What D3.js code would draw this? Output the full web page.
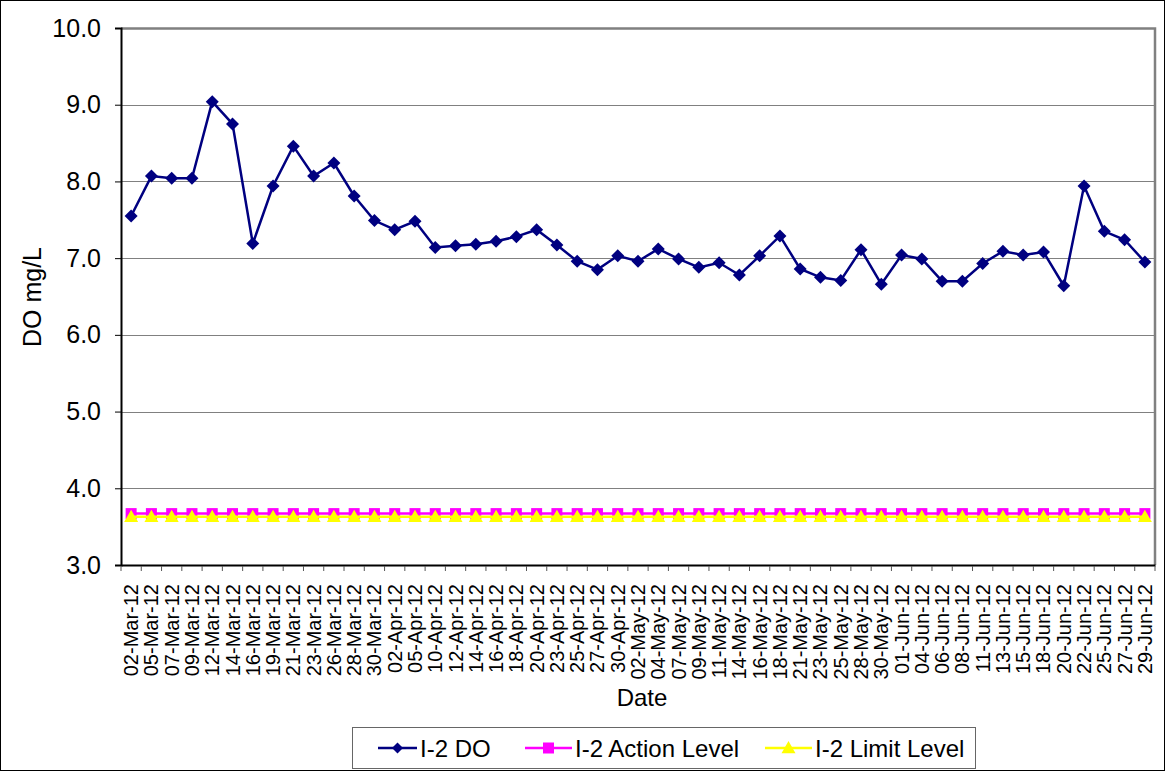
<!DOCTYPE html>
<html>
<head>
<meta charset="utf-8">
<script src="https://cdn.jsdelivr.net/npm/d3@7"></script>
<style>
  html, body { margin: 0; padding: 0; background: #fff; }
  svg { display: block; font-family: "Liberation Sans", Arial, sans-serif; }
</style>
</head>
<body>
<svg id="chart" width="1165" height="771"></svg>
<script>
const dates = ["02-Mar-12","05-Mar-12","07-Mar-12","09-Mar-12","12-Mar-12","14-Mar-12","16-Mar-12","19-Mar-12","21-Mar-12","23-Mar-12","26-Mar-12","28-Mar-12","30-Mar-12",
  "02-Apr-12","05-Apr-12","10-Apr-12","12-Apr-12","14-Apr-12","16-Apr-12","18-Apr-12","20-Apr-12","23-Apr-12","25-Apr-12","27-Apr-12","30-Apr-12",
  "02-May-12","04-May-12","07-May-12","09-May-12","11-May-12","14-May-12","16-May-12","18-May-12","21-May-12","23-May-12","25-May-12","28-May-12","30-May-12",
  "01-Jun-12","04-Jun-12","06-Jun-12","08-Jun-12","11-Jun-12","13-Jun-12","15-Jun-12","18-Jun-12","20-Jun-12","22-Jun-12","25-Jun-12","27-Jun-12","29-Jun-12"];
const doValues = [7.55,8.07,8.04,8.04,9.04,8.75,7.19,7.94,8.46,8.07,8.24,7.81,7.49,
  7.37,7.48,7.14,7.16,7.18,7.22,7.28,7.37,7.17,6.96,6.85,7.03,
  6.96,7.12,6.99,6.88,6.94,6.78,7.03,7.29,6.86,6.75,6.71,7.11,6.66,
  7.04,6.99,6.70,6.70,6.93,7.09,7.04,7.08,6.64,7.94,7.35,7.24,6.95];
const actionLevel = dates.map(() => 3.67);
const limitLevel = dates.map(() => 3.63);
const yTicks = [3,4,5,6,7,8,9,10];
const seriesNames = ["I-2 DO","I-2 Action Level","I-2 Limit Level"];

const svg = d3.select("#chart");
const W = 1165, H = 771;
const m = {left: 121, right: 1155, top: 28, bottom: 565};
const FONT = "Liberation Sans, Arial, sans-serif";

// outer border
svg.append("rect").attr("x",0.5).attr("y",0.5).attr("width",W-1).attr("height",H-1)
  .attr("fill","#fff").attr("stroke","#000").attr("stroke-width",1);

const x = d3.scaleBand().domain(dates).range([m.left, m.right]).paddingInner(0).paddingOuter(0);
const y = d3.scaleLinear().domain([3,10]).range([m.bottom, m.top]);
const cx = d => x(d) + x.bandwidth()/2;

// gridlines
svg.append("g").selectAll("line").data(yTicks.filter(t => t>3 && t<10)).join("line")
  .attr("x1", m.left).attr("x2", m.right)
  .attr("y1", d => Math.round(y(d))+0.5).attr("y2", d => Math.round(y(d))+0.5)
  .attr("stroke","#808080").attr("stroke-width",1);
// plot border top/right
svg.append("path")
  .attr("d", `M${m.left},${y(10)+0.5}H${m.right}V${m.bottom}`)
  .attr("fill","none").attr("stroke","#808080").attr("stroke-width",2.5);

// y axis
const yAxis = d3.axisLeft(y).tickValues(yTicks).tickFormat(d3.format(".1f")).tickSize(6).tickPadding(14);
const gy = svg.append("g").attr("transform",`translate(${m.left},0)`).call(yAxis);
gy.select(".domain").attr("stroke","#000").attr("stroke-width",2);
gy.selectAll(".tick line").attr("stroke","#000");
gy.selectAll(".tick text").attr("font-size",25).attr("fill","#000").attr("font-family",FONT);

// x axis
const xAxis = d3.axisBottom(x).tickSize(0).tickPadding(0);
const gx = svg.append("g").attr("transform",`translate(0,${m.bottom})`).call(xAxis);
gx.select(".domain").attr("stroke","#000").attr("stroke-width",2);
gx.selectAll(".tick text")
  .attr("font-size",20).attr("fill","#000").attr("font-family",FONT)
  .attr("text-anchor","end").attr("dy","0.35em")
  .attr("transform","translate(0,19) rotate(-90)");
// band-boundary ticks
const bounds = dates.map(d => x(d)).concat([m.right]);
gx.append("g").selectAll("line").data(bounds).join("line")
  .attr("x1", d => d).attr("x2", d => d).attr("y1", 1).attr("y2", 6)
  .attr("stroke","#555").attr("stroke-width",1);

// axis titles
svg.append("text").attr("x", 642).attr("y", 706).attr("text-anchor","middle")
  .attr("font-size",24).text("Date");
svg.append("text").attr("transform","translate(41,297) rotate(-90)").attr("text-anchor","middle")
  .attr("font-size",25).text("DO mg/L");

const line = d3.line().x((d,i) => cx(dates[i])).y(d => y(d));

// DO series
svg.append("path").datum(doValues).attr("d", line)
  .attr("fill","none").attr("stroke","#000080").attr("stroke-width",2.5);
const diamond = s => `M0,${-s}L${s},0L0,${s}L${-s},0Z`;
svg.append("g").selectAll("path").data(doValues).join("path")
  .attr("transform",(d,i) => `translate(${cx(dates[i])},${y(d)})`)
  .attr("d", diamond(6.5)).attr("fill","#000080");

// Action level
svg.append("path").datum(actionLevel).attr("d", line)
  .attr("fill","none").attr("stroke","#FF00FF").attr("stroke-width",2.5);
svg.append("g").selectAll("rect").data(actionLevel).join("rect")
  .attr("x",(d,i) => cx(dates[i]) - 5.5).attr("y", d => y(d) - 5.5)
  .attr("width",11).attr("height",11).attr("fill","#FF00FF");

// Limit level
svg.append("path").datum(limitLevel).attr("d", line)
  .attr("fill","none").attr("stroke","#FFFF00").attr("stroke-width",2.5);
const tri = s => `M0,${-s}L${s},${s*0.75}L${-s},${s*0.75}Z`;
svg.append("g").selectAll("path").data(limitLevel).join("path")
  .attr("transform",(d,i) => `translate(${cx(dates[i])},${y(d)})`)
  .attr("d", tri(7)).attr("fill","#FFFF00");

// Legend
const lg = svg.append("g");
lg.append("rect").attr("x",352.5).attr("y",727.5).attr("width",623).attr("height",41)
  .attr("fill","#fff").attr("stroke","#666").attr("stroke-width",1);
const legendItems = [
  {name: seriesNames[0], color:"#000080", x0:378, x1:417, tx:420, marker:"diamond"},
  {name: seriesNames[1], color:"#FF00FF", x0:525, x1:572, tx:575, marker:"square"},
  {name: seriesNames[2], color:"#FFFF00", x0:765, x1:812, tx:815, marker:"triangle"}
];
const ly = 748;
legendItems.forEach(it => {
  lg.append("line").attr("x1",it.x0).attr("x2",it.x1).attr("y1",ly).attr("y2",ly)
    .attr("stroke",it.color).attr("stroke-width",2.5);
  const mx = (it.x0+it.x1)/2;
  if (it.marker === "diamond") lg.append("path").attr("transform",`translate(${mx},${ly})`).attr("d",diamond(5.5)).attr("fill",it.color);
  if (it.marker === "square") lg.append("rect").attr("x",mx-5.5).attr("y",ly-5.5).attr("width",11).attr("height",11).attr("fill",it.color);
  if (it.marker === "triangle") lg.append("path").attr("transform",`translate(${mx},${ly})`).attr("d",tri(7)).attr("fill",it.color);
  lg.append("text").attr("x",it.tx).attr("y",ly).attr("dy","0.36em").attr("font-size",24).text(it.name);
});
</script>
</body>
</html>
